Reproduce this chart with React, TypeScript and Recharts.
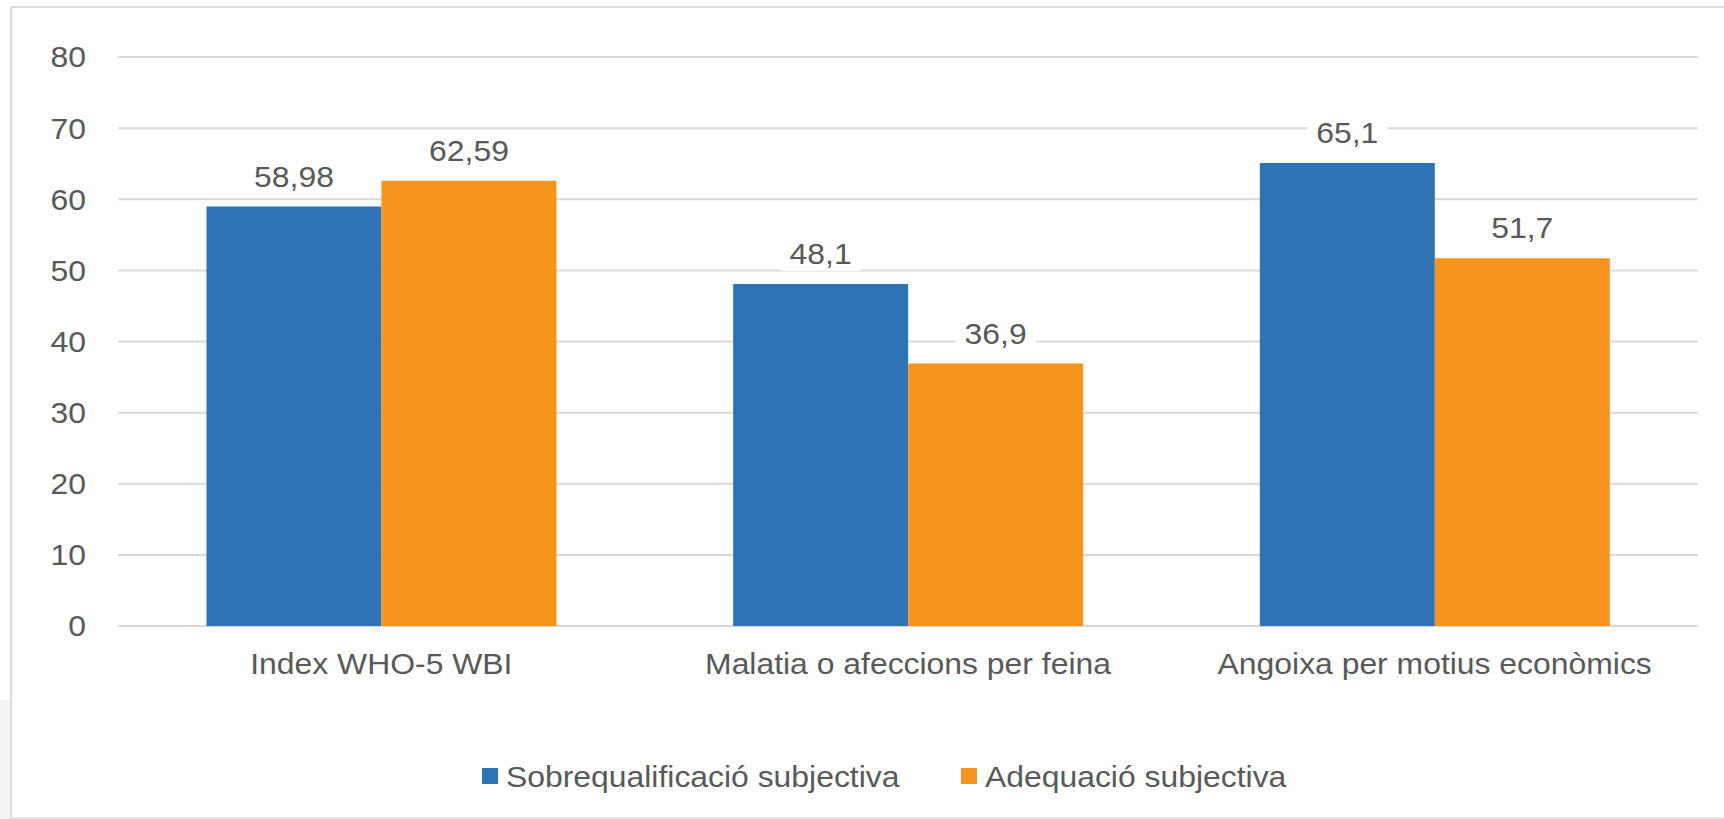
import React from 'react';
import { BarChart, Bar, XAxis, YAxis, CartesianGrid, Legend, LabelList } from 'recharts';

// values
const categories = ['Index WHO-5 WBI', 'Malatia o afeccions per feina', 'Angoixa per motius econòmics'];
const sobrequalificacio = [58.98, 48.1, 65.1];
const adequacio = [62.59, 36.9, 51.7];
const yTicks = [0, 10, 20, 30, 40, 50, 60, 70, 80];
const seriesNames = ['Sobrequalificació subjectiva', 'Adequació subjectiva'];

const data = categories.map((name, i) => ({
  name,
  sobre: sobrequalificacio[i],
  adeq: adequacio[i],
}));

const FONT = '"Liberation Sans", Arial, sans-serif';
const TEXT = '#595959';
const BLUE = '#2E74B5';
const ORANGE = '#F7941E';
const GRID = '#d9d9d9';
const SIZE = 29;
const STRETCH = 1.1; // the original picture is a bit wider than tall

const fmt = (v: number) => String(v).replace('.', ',');

const YTick = (props: any) => {
  const { x, y, payload } = props;
  return (
    <g transform={`translate(${x},${y}) scale(${STRETCH},1)`}>
      <text x={0} y={0} dy="0.36em" textAnchor="end" fill={TEXT} fontSize={SIZE} fontFamily={FONT}>
        {payload.value}
      </text>
    </g>
  );
};

const XTick = (props: any) => {
  const { x, y, payload } = props;
  return (
    <g transform={`translate(${x},${y}) scale(${STRETCH},1)`}>
      <text x={0} y={0} dy="0.72em" textAnchor="middle" fill={TEXT} fontSize={SIZE} fontFamily={FONT}>
        {payload.value}
      </text>
    </g>
  );
};

// value label with a white box behind it, hiding the gridline
const ValueLabel = (props: any) => {
  const { x, y, width, value } = props;
  const cx = x + width / 2;
  const base = y - 20;
  const s = fmt(value);
  let w = 0;
  for (const ch of s) w += ch === ',' ? 0.278 : 0.556;
  w = w * SIZE * STRETCH + 18;
  return (
    <g>
      <rect x={cx - w / 2} y={base - 27} width={w} height={34} fill="#fff" />
      <g transform={`translate(${cx},${base}) scale(${STRETCH},1)`}>
        <text x={0} y={0} textAnchor="middle" fill={TEXT} fontSize={SIZE} fontFamily={FONT}>
          {s}
        </text>
      </g>
    </g>
  );
};

const legendPos = [
  { sq: 482, tx: 506 },
  { sq: 961, tx: 985 },
];

const renderLegend = (props: any) => {
  const payload = [...(props.payload || [])].sort(
    (a: any, b: any) => seriesNames.indexOf(a.value) - seriesNames.indexOf(b.value)
  );
  return (
    <svg width={1724} height={40} style={{ display: 'block' }}>
      {payload.map((entry: any, i: number) => (
        <g key={entry.value}>
          <rect x={legendPos[i].sq} y={11} width={16} height={16} fill={entry.color} />
          <g transform={`translate(${legendPos[i].tx},30) scale(${STRETCH},1)`}>
            <text x={0} y={0} fill={TEXT} fontSize={SIZE} fontFamily={FONT}>
              {entry.value}
            </text>
          </g>
        </g>
      ))}
    </svg>
  );
};

export default function App() {
  return (
    <div style={{ position: 'absolute', left: 0, top: 0, width: 1724, height: 819, background: '#fff', overflow: 'hidden' }}>
      <div style={{ position: 'absolute', left: 0, top: 700, width: 10, height: 119, background: '#f3f3f5' }} />
      <div
        style={{
          position: 'absolute',
          left: 10,
          top: 6,
          width: 1714,
          height: 813,
          boxSizing: 'border-box',
          borderTop: '2px solid #dcdcdc',
          borderLeft: '2px solid #dcdcdc',
          borderBottom: '2px solid #e6e6e6',
        }}
      />
      <div style={{ position: 'absolute', left: 0, top: 0 }}>
        <BarChart
          width={1724}
          height={819}
          data={data}
          margin={{ top: 57, right: 26, left: 0, bottom: 22 }}
          barCategoryGap="16.8%"
          barGap={0}
        >
          <CartesianGrid vertical={false} stroke={GRID} strokeWidth={2} />
          <XAxis
            dataKey="name"
            axisLine={false}
            tickLine={false}
            tickSize={0}
            tickMargin={27}
            height={131}
            interval={0}
            tick={<XTick />}
          />
          <YAxis
            domain={[0, 80]}
            ticks={yTicks}
            axisLine={false}
            tickLine={false}
            tickSize={0}
            tickMargin={32}
            width={118}
            interval={0}
            tick={<YTick />}
          />
          <Legend
            verticalAlign="bottom"
            content={renderLegend}
            wrapperStyle={{ left: 0, bottom: 22, width: 1724 }}
          />
          <Bar dataKey="sobre" name={seriesNames[0]} fill={BLUE} isAnimationActive={false}>
            <LabelList dataKey="sobre" content={<ValueLabel />} />
          </Bar>
          <Bar dataKey="adeq" name={seriesNames[1]} fill={ORANGE} isAnimationActive={false}>
            <LabelList dataKey="adeq" content={<ValueLabel />} />
          </Bar>
        </BarChart>
      </div>
    </div>
  );
}
